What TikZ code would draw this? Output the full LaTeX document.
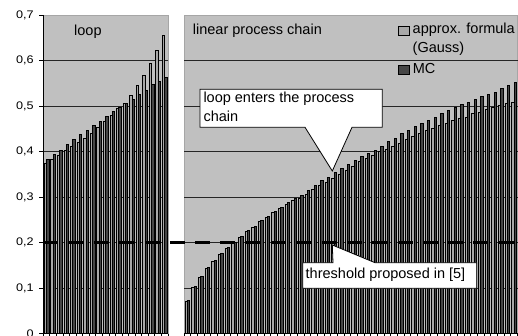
\documentclass[tikz,border=0pt]{standalone}
\usepackage{fontspec}
\setmainfont{Liberation Sans}
\newfontfamily\ticksans[FakeStretch=1.15]{Liberation Sans}
\definecolor{plotgray}{HTML}{C0C0C0}
\definecolor{barlight}{HTML}{A8A8A8}
\definecolor{bardark}{HTML}{464646}
\begin{document}
\begin{tikzpicture}[x=1pt,y=-1pt,
  plotbg/.style={fill=plotgray, draw=gray!70, line width=0.6},
  gridline/.style={draw=black!85, line width=0.8},
  axisline/.style={draw=black, line width=0.8},
  lightbar/.style={fill=barlight, draw=black, line width=0.6},
  darkbar/.style={fill=bardark, draw=black, line width=0.6},
  threshold/.style={draw=black, line width=3.2, dash pattern=on 15pt off 10.3pt},
  ticklabel/.style={font=\ticksans\fontsize{11}{13}\selectfont, anchor=east, inner sep=0},
  ann/.style={font=\fontsize{14.5}{19}\selectfont, inner sep=0},
  callout/.style={fill=white, draw=black, line width=0.8, line join=miter}
]
\useasboundingbox (0,0) rectangle (518,336);

% plot areas
\path[plotbg] (43.3,15) rectangle (168,333.5);
\path[plotbg] (184,15) rectangle (517.5,333.5);

% horizontal grid lines
\foreach \k in {1,...,6}{
  \draw[gridline] (43.3,{333.5-45.5*\k}) -- (168,{333.5-45.5*\k});
  \draw[gridline] (184,{333.5-45.5*\k}) -- (517.5,{333.5-45.5*\k});
}

% loop: approx. formula / MC
\foreach \l/\d [count=\i from 0] in {
  0.374/0.383, 0.383/0.394, 0.392/0.403, 0.403/0.416, 0.412/0.427,
  0.421/0.438, 0.429/0.447, 0.441/0.458, 0.453/0.466, 0.466/0.477,
  0.479/0.488, 0.494/0.497, 0.507/0.507, 0.524/0.515, 0.545/0.526,
  0.568/0.535, 0.594/0.548, 0.622/0.555, 0.656/0.564}{
  \pgfmathsetmacro\xa{43.3+6.56*\i}
  \draw[lightbar] ({\xa+0.9},333.5) rectangle ({\xa+3.25},{333.5-455*\l});
  \draw[darkbar] ({\xa+3.25},333.5) rectangle ({\xa+5.6},{333.5-455*\d});
}

% linear process chain: approx. formula / MC
\foreach \l/\d [count=\i from 0] in {
  0.070/0.072, 0.101/0.103, 0.123/0.125, 0.143/0.145, 0.158/0.160,
  0.174/0.176, 0.188/0.190, 0.199/0.201, 0.212/0.214, 0.225/0.227,
  0.234/0.236, 0.247/0.249, 0.256/0.258, 0.266/0.268, 0.275/0.278,
  0.285/0.289, 0.292/0.297, 0.298/0.304, 0.307/0.314, 0.317/0.326,
  0.326/0.336, 0.332/0.343, 0.342/0.354, 0.350/0.363, 0.358/0.372,
  0.367/0.381, 0.378/0.390, 0.385/0.396, 0.392/0.403, 0.400/0.412,
  0.405/0.422, 0.412/0.430, 0.418/0.440, 0.427/0.447, 0.433/0.455,
  0.440/0.462, 0.446/0.469, 0.451/0.476, 0.458/0.484, 0.463/0.490,
  0.469/0.497, 0.473/0.504, 0.476/0.509, 0.484/0.515, 0.487/0.522,
  0.493/0.526, 0.497/0.531, 0.502/0.539, 0.506/0.546, 0.509/0.553}{
  \pgfmathsetmacro\xa{184+6.67*\i}
  \draw[lightbar] ({\xa+0.9},333.5) rectangle ({\xa+3.25},{333.5-455*\l});
  \draw[darkbar] ({\xa+3.25},333.5) rectangle ({\xa+5.6},{333.5-455*\d});
}

% axes and ticks
\draw[axisline] (43.3,15) -- (43.3,333.5) -- (168,333.5);
\draw[axisline] (184,333.5) -- (517.5,333.5);
\foreach \i in {0,...,19}
  \draw[axisline] ({43.3+6.56*\i},333.5) -- ++(0,3.5);
\foreach \i in {0,...,50}
  \draw[axisline] ({184+6.67*\i},333.5) -- ++(0,3.5);
\foreach \k/\t in {0/0, 1/{0,1}, 2/{0,2}, 3/{0,3}, 4/{0,4}, 5/{0,5}, 6/{0,6}, 7/{0,7}}{
  \draw[axisline] (39.3,{333.5-45.5*\k}) -- (43.3,{333.5-45.5*\k});
  \node[ticklabel] (ylab\k) at (33.8,{333.5-45.5*\k}) {\t};
}

% threshold
\coordinate (thrA) at (43.3,242.5);
\coordinate (thrB) at (517.5,242.5);
\draw[threshold] (thrA) -- (thrB);

% panel titles
\node[ann, anchor=base west] (looplab) at (74,36) {loop};
\node[ann, anchor=base west] (chainlab) at (192.7,35) {linear process chain};

% legend
\draw[lightbar] (398.5,26) rectangle (409.5,35);
\node[ann, anchor=north west, align=left] (legA) at (412.5,23) {approx. formula\\(Gauss)};
\draw[darkbar] (398.5,65) rectangle (409.5,74);
\node[ann, anchor=base west] (legB) at (412.7,73.5) {MC};

% callouts
\coordinate (tipA) at (332.3,171);
\draw[callout] (200,89.3) -- (382.3,89.3) -- (382.3,127.3) -- (352,127.3) -- (tipA) -- (305,127.3) -- (200,127.3) -- cycle;
\node[ann, anchor=north west, align=left] (calloutA) at (203.3,92) {loop enters the process\\chain};

\coordinate (tipB) at (332.3,245);
\draw[callout] (302.7,262.7) -- (333,262.7) -- (tipB) -- (375,262.7) -- (476.7,262.7) -- (476.7,288.3) -- (302.7,288.3) -- cycle;
\node[ann, anchor=base west] (calloutB) at (305.5,278.3) {threshold proposed in [5]};
\end{tikzpicture}
\end{document}
